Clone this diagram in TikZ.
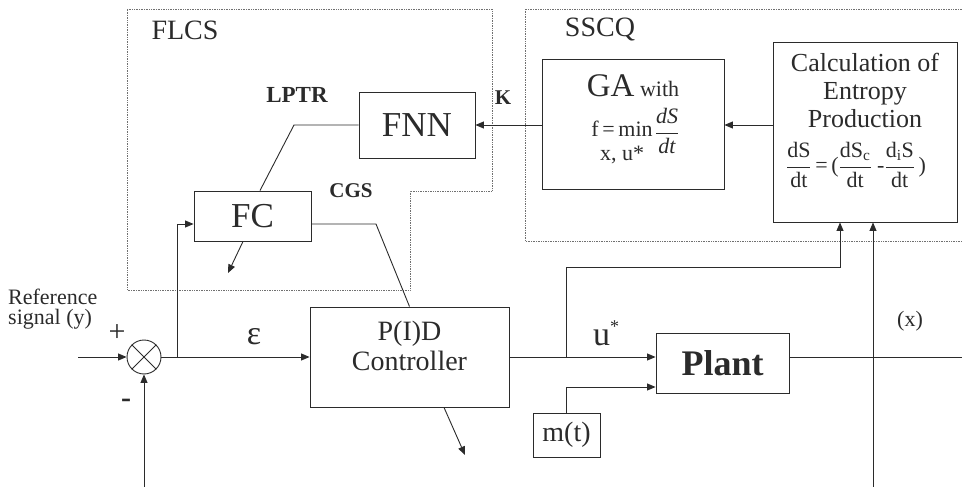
\RequirePackage{fix-cm}
\documentclass[tikz,border=0pt]{standalone}
\usepackage{amsmath}
\usepackage{fontspec}
\setmainfont{Liberation Serif}
\usetikzlibrary{arrows.meta, calc}
\definecolor{lineclr}{HTML}{2B2B2B}
\definecolor{dotclr}{HTML}{707070}
\newcommand{\fsz}[1]{\fontsize{#1}{#1}\selectfont}

\begin{document}
\begin{tikzpicture}[
    x=1pt, y=-1pt,
    every node/.style={text=lineclr, inner sep=0pt},
    sig/.style={line width=0.9pt, draw=lineclr},
    arr/.style={sig, -{Triangle[length=8.5pt, width=7pt]}},
    region/.style={line width=0.7pt, dotclr, densely dotted},
    blk/.style={draw=lineclr, line width=0.9pt, rectangle}
]
\useasboundingbox (0,0) rectangle (962,487);

% Dotted regions
\draw[region] (127,9) -- (492,9) -- (492,191) -- (410,191) -- (410,290) -- (127,290) -- cycle;
\draw[region] (962,9) -- (525,9) -- (525,241) -- (962,241);
\node[font=\fsz{28}] (flcs) at (185,30) {FLCS};
\node[font=\fsz{28}] (sscq) at (600,30) {SSCQ};

% Blocks
\node[blk, minimum width=116pt, minimum height=66pt, font=\fsz{35}] (fnn) at (417,125) {FNN};
\node[blk, minimum width=117pt, minimum height=50pt, font=\fsz{35}] (fc) at (252.5,216) {FC};
\node[blk, minimum width=182pt, minimum height=130pt] (ga) at (633,124) {};
\node[blk, minimum width=184pt, minimum height=180pt] (calc) at (865,132) {};
\node[blk, minimum width=199pt, minimum height=100pt] (pid) at (409.5,357) {};
\node[blk, minimum width=133pt, minimum height=60pt, font=\bfseries\fsz{36}] (plant) at (722.5,363) {Plant};
\node[blk, minimum width=67pt, minimum height=44pt, font=\fsz{28}] (mt) at (566.5,435) {m(t)};
\node[circle, sig, minimum size=34pt] (sum) at (144,357) {};
\draw[sig] (sum.north west) -- (sum.south east) (sum.north east) -- (sum.south west);

% Block texts
\node[font=\fsz{28}, align=center] (pidtxt) at (409.5,346) {P(I)D\\[2pt]Controller};
\node (gahead) at (633,86) {{\fsz{33}GA}{\fsz{22} with}};
\node[font=\fsz{22}] (gaf) at (622,129) {f\,=\,min};
\node[font=\fsz{22}] (gax) at (622,155) {x, u*};
\node[font=\fsz{22}] (gafrac) at (667,131) {$\dfrac{\textit{dS}}{\textit{dt}}$};
\node[font=\fsz{26}, align=center] (calctxt) at (865,90) {Calculation of\\[2pt]Entropy\\[2pt]Production};
\node[font=\fsz{22}] (calceq) at (856,165)
    {$\dfrac{\textrm{dS}}{\textrm{dt}}$\,=\,($\dfrac{\textrm{dS}_{\textrm{c}}}{\textrm{dt}}$ -$\dfrac{\textrm{d}_{\textrm{i}}\textrm{S}}{\textrm{dt}}$\,)};

% Signal labels
\node[font=\fsz{22}, align=left, anchor=west] (ref) at (8,309) {Reference\\[-2pt]signal (y)};
\node[font=\fsz{30}] (plus) at (117,333) {+};
\node[font=\bfseries\fsz{30}] (minus) at (126,403) {-};
\node[font=\fsz{34}] (eps) at (254,337) {ε};
\node[font=\fsz{34}] (ustar) at (606,333) {u\raisebox{13pt}{\fsz{18}*}};
\node[font=\fsz{22}] (xlbl) at (910,321) {(x)};
\node[font=\bfseries\fsz{23}] (lptr) at (297,95) {LPTR};
\node[font=\bfseries\fsz{21}] (klbl) at (503,98) {K};
\node[font=\bfseries\fsz{21}] (cgs) at (351,191) {CGS};

% Free ends and knees
\coordinate (refIn) at (78,357);
\coordinate (fbBot) at (144,487);
\coordinate (tapE) at (177,357);
\coordinate (tapU) at (566,357);
\coordinate (uKnee) at (840,267);
\coordinate (xBot) at (873,487);
\coordinate (outR) at (962,357);
\coordinate (lptrKnee) at (294,125);
\coordinate (cgsKnee) at (376,224);
\coordinate (fcOut) at (228,273);
\coordinate (pidOut) at (465,455);

% Forward path
\draw[arr] (refIn) -- (sum.west);
\draw[arr] (sum.east) -- (pid.west);
\draw[arr] (pid.east) -- (pid.east -| plant.west);
\draw[sig] (plant.east |- outR) -- (outR);
\draw[arr] (fbBot) -- (sum.south);
\draw[arr] (mt.north) |- ($(plant.west)+(0,24)$);

% Supervisory loop
\draw[arr] (tapE) |- ($(fc.west)+(0,8)$);
\draw[sig] ([xshift=7.5pt]fc.north) -- (lptrKnee) -- (fnn.west);
\draw[sig] ($(fc.east)+(0,8)$) -- (cgsKnee) -- (pid.north);
\draw[arr] ([xshift=-9.5pt]fc.south) -- (fcOut);
\draw[arr] ([xshift=34.5pt]pid.south) -- (pidOut);
\draw[arr] (ga.west |- fnn.east) -- (fnn.east);
\draw[arr] (calc.west |- fnn.east) -- (ga.east |- fnn.east);
\draw[arr] (tapU) |- (uKnee) -- (uKnee |- calc.south);
\draw[arr] (xBot) -- (xBot |- calc.south);
\end{tikzpicture}
\end{document}
